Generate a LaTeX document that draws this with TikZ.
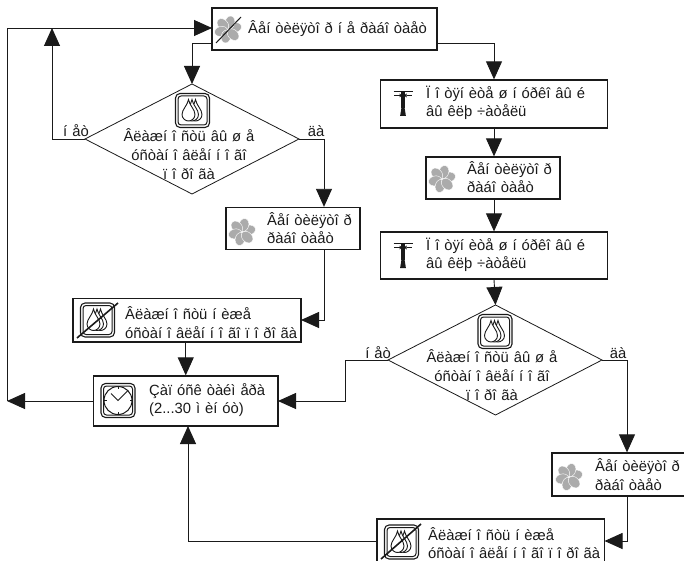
\documentclass[tikz,border=0pt]{standalone}
\usepackage{fontspec}
\setmainfont{Liberation Sans}[WordSpace=1.2]
\usetikzlibrary{arrows.meta,positioning,calc}
\definecolor{ink}{HTML}{1A1A1A}
\definecolor{petal}{HTML}{ABABAB}
\tikzset{
  x=1pt,y=-1pt,
  bx/.style={draw=ink,line width=1.3pt,fill=white,inner sep=0pt,rectangle},
  lbl/.style={inner sep=0pt,anchor=west,font=\fontsize{14.8}{18.5}\selectfont,text=ink,align=left},
  ctr/.style={inner sep=0pt,anchor=center,font=\fontsize{14.8}{19}\selectfont,text=ink,align=center},
  dia/.style={draw=ink,line width=0.8pt,fill=white},
  conn/.style={draw=ink,line width=0.9pt,-{Triangle[length=18pt,width=16pt]}},
  fanpic/.pic={
    \foreach \a in {15,75,135,195,255,315}
      \draw[draw=white,line width=0.4pt,fill=petal,rotate=\a] (7.2,0) ellipse [x radius=6.6,y radius=4.9];
  },
  frame/.pic={
    \draw[draw=ink,line width=1.1pt,fill=white,rounded corners=4.5pt] (-17,-17) rectangle (17,17);
    \draw[draw=ink,line width=1pt,rounded corners=3pt] (-14.5,-14.5) rectangle (14.5,14.5);
  },
  drops/.pic={
    \foreach \d in {7,3.5,0}
      \draw[draw=ink,line width=0.9pt,fill=white,xshift=\d pt-1pt]
        (-3,-11) .. controls (-2,-5) and (3.5,-1) .. (3.5,4) .. controls (3.5,8) and (0,10.5) .. (-3,10.5)
        .. controls (-6,10.5) and (-9.5,8) .. (-9.5,4) .. controls (-9.5,-1) and (-4,-5) .. cycle;
  },
  clockpic/.pic={
    \draw[draw=ink,line width=1pt] (0,0) circle (14);
    \foreach \a in {0,90,180,270} \draw[draw=ink,line width=0.8pt] (\a:14) -- (\a:11.5);
    \draw[draw=ink,line width=1pt] (-7,-7) -- (0,0) -- (10,-10);
  },
  tpic/.pic={
    \draw[draw=ink,line width=1.4pt] (-9.5,0.7) -- (9.5,0.7);
    \draw[draw=ink,line width=1.2pt] (-9,4.5) -- (-3.5,4.5);
    \draw[draw=ink,line width=1.2pt] (3.5,4.5) -- (9,4.5);
    \fill[ink] (-3.5,2.5) -- (-1,4.5) -- (-3.5,6.5) -- cycle;
    \fill[ink] (3.5,2.5) -- (1,4.5) -- (3.5,6.5) -- cycle;
    \fill[ink] (-1.6,1) rectangle (1.6,17);
    \fill[ink] (-1.6,17) -- (1.6,17) -- (2.9,25) -- (-2.9,25) -- cycle;
  }
}
\begin{document}
\begin{tikzpicture}
\clip (0,0) rectangle (684,561);
\fill[white] (0,0) rectangle (684,561);

% boxes
\node[bx,minimum width=225,minimum height=42] (top) at (324.5,29) {};
\node[bx,minimum width=227,minimum height=48] (pull1) at (494,104) {};
\node[bx,minimum width=134,minimum height=42] (fan2) at (493,178) {};
\node[bx,minimum width=227,minimum height=47] (pull2) at (494,255.5) {};
\node[bx,minimum width=134,minimum height=42] (fan1) at (293,228.5) {};
\node[bx,minimum width=228,minimum height=43.5] (low1) at (187,320.25) {};
\node[bx,minimum width=184.5,minimum height=50] (clock) at (185.75,401) {};
\node[bx,minimum width=134,minimum height=43] (fan3) at (619,474.5) {};
\node[bx,minimum width=227.5,minimum height=60] (low2) at (490.75,549) {};

% diamonds
\draw[dia] (192,84) coordinate (d1n) -- (299,139) coordinate (d1e) -- (192,194) coordinate (d1s) -- (85,139) coordinate (d1w) -- cycle;
\draw[dia] (495.5,305) coordinate (d2n) -- (602,360) coordinate (d2e) -- (495.5,415) coordinate (d2s) -- (388,360) coordinate (d2w) -- cycle;

% connector waypoints
\coordinate (topL) at (212,43);
\coordinate (topR) at (437,43);
\coordinate (topIn) at (212,28);
\coordinate (clkOut) at (93.5,401);
\coordinate (clkIn) at (278,401);
\coordinate (fan1Out) at (324,249.5);
\coordinate (low1In) at (301,320);
\coordinate (fan3Out) at (627,496);
\coordinate (low2In) at (604.5,541);
\coordinate (low2Out) at (377,541);

% connectors
\draw[conn] (topL) -| (d1n);
\draw[conn] (topR) -| (pull1.north);
\draw[conn] (pull1.south) -- (pull1.south |- fan2.north);
\draw[conn] (pull1.south |- fan2.south) -- (pull2.north);
\draw[conn] (pull2.south) -- (d2n);
\draw[conn] (d1w) -| (52,28);
\draw[conn] (d1e) -| (fan1Out |- fan1.north);
\draw[conn] (fan1Out) |- (low1In);
\draw[conn] (low1.south -| clock.north) -- (clock.north);
\draw[conn] (clkOut) -- (7,401);
\draw[conn] (7,401) -- (7,28) -- (topIn);
\draw[conn] (d2w) -- (345,360) -- (345,401) -- (clkIn);
\draw[conn] (d2e) -| (fan3Out |- fan3.north);
\draw[conn] (fan3Out) |- (low2In);
\draw[conn] (low2Out) -| (188,426);

% icons
\pic at (228,29.5) {fanpic};
\draw[draw=ink,line width=1pt] (216,43) -- (241,17);
\pic at (442,179) {fanpic};
\pic at (242,232) {fanpic};
\pic at (569,477) {fanpic};

\pic at (192.5,110.5) {frame};
\pic at (192.5,110.5) {drops};
\pic at (495,331.5) {frame};
\pic at (495,331.5) {drops};

\pic at (97.5,320) {frame};
\pic at (97.5,320) {drops};
\draw[draw=ink,line width=1.6pt] (77,338) -- (118,303);
\pic at (401.5,542) {frame};
\pic at (401.5,542) {drops};
\draw[draw=ink,line width=1.6pt] (381,559) -- (421,524);

\pic at (118,400.5) {frame};
\pic at (118,400.5) {clockpic};

\pic at (403,91) {tpic};
\pic at (403,243) {tpic};

% texts
\node[lbl] (ttop) at (248,29) {Âåí òèëÿòî ð í å ðàáî òàåò};
\node[lbl] (tp1) at (426,103) {Ï î òÿí èòå ø í óðêî âû é\\âû êëþ ÷àòåëü};
\node[lbl] (tf2) at (467,177) {Âåí òèëÿòî ð\\ðàáî òàåò};
\node[lbl] (tp2) at (426,255) {Ï î òÿí èòå ø í óðêî âû é\\âû êëþ ÷àòåëü};
\node[lbl] (tf1) at (267,228) {Âåí òèëÿòî ð\\ðàáî òàåò};
\node[lbl] (tf3) at (595,474.5) {Âåí òèëÿòî ð\\ðàáî òàåò};
\node[lbl] (tl1) at (125,322.5) {Âëàæí î ñòü í èæå\\óñòàí î âëåí í î ãî ï î ðî ãà};
\node[lbl] (tl2) at (428,543) {Âëàæí î ñòü í èæå\\óñòàí î âëåí í î ãî ï î ðî ãà};
\node[lbl] (tc) at (149,400) {Çàï óñê òàéì åðà\\(2...30 ì èí óò)};
\node[ctr] (td1) at (189,154) {Âëàæí î ñòü âû ø å\\óñòàí î âëåí í î ãî\\ï î ðî ãà};
\node[ctr] (td2) at (492,375.5) {Âëàæí î ñòü âû ø å\\óñòàí î âëåí í î ãî\\ï î ðî ãà};
\node[ctr] (no1) at (76,131) {í åò};
\node[ctr] (yes1) at (316,131) {äà};
\node[ctr] (no2) at (378,353) {í åò};
\node[ctr] (yes2) at (618,353) {äà};
\end{tikzpicture}
\end{document}
